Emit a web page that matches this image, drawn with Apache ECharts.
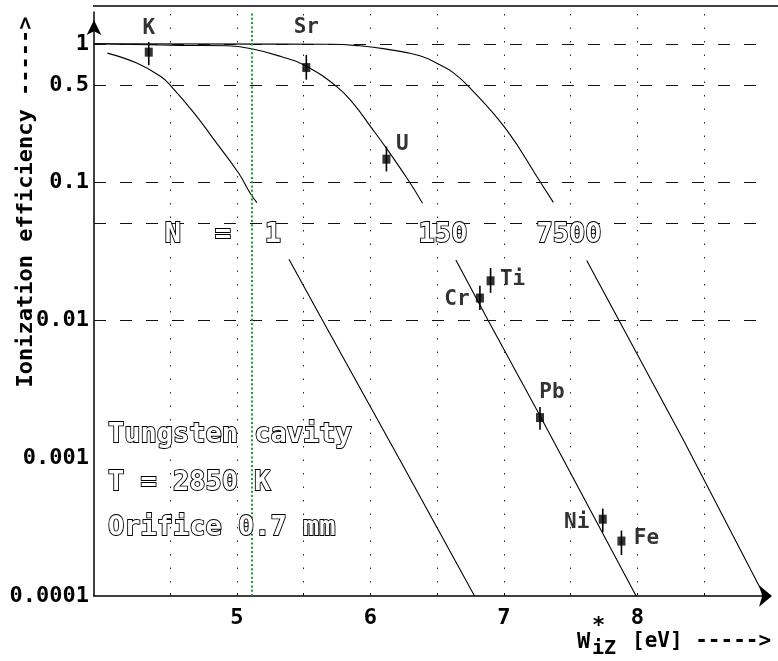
<!DOCTYPE html>
<html>
<head>
<meta charset="utf-8">
<script src="https://cdn.jsdelivr.net/npm/echarts@6/dist/echarts.min.js"></script>
<style>
  html, body { margin: 0; padding: 0; background: #fff; }
  #chart { width: 778px; height: 661px; }
</style>
</head>
<body>
<div id="chart"></div>
<script>
// Axis ticks and grid positions
const xTickLabels = [5, 6, 7, 8];
const xGridValues = [4.5, 5, 5.5, 6, 6.5, 7, 7.5, 8, 8.5];
const yTickValues = [0.0001, 0.001, 0.01, 0.1, 0.5, 1];
const yTickLabels = ['0.0001', '0.001', '0.01', '0.1', '0.5', '1'];
const yGridValues = [1, 0.5, 0.1, 0.05, 0.01, 0.005, 0.001, 0.0005];
const tungstenWorkFunction = 5.11;

// Ionization efficiency curves for N = 1, 150, 7500 (upper and lower branches)
const curveN1Upper = [[4.03, 0.856], [4.25, 0.725], [4.43, 0.58], [4.51, 0.49], [4.68, 0.315],
  [4.83, 0.2015], [5.01, 0.1168], [5.10, 0.0828], [5.15, 0.0708]];
const curveN1Lower = [[5.39, 0.0275], [5.64, 0.0100], [6.22, 0.00097], [6.78, 0.0001]];
const curveN150Upper = [[3.93, 1.0], [4.57, 0.975], [4.93, 0.967], [5.11, 0.92], [5.33, 0.809],
  [5.50, 0.705], [5.75, 0.488], [5.88, 0.361], [6.00, 0.252], [6.12, 0.175], [6.29, 0.1005],
  [6.39, 0.0701]];
const curveN150Lower = [[6.64, 0.0272], [6.88, 0.0100], [7.27, 0.00202], [7.99, 0.0001]];
const curveN7500Upper = [[3.93, 1.0], [5.70, 0.992], [5.92, 0.967], [6.12, 0.915], [6.37, 0.819],
  [6.52, 0.705], [6.62, 0.619], [6.74, 0.486], [7.02, 0.238], [7.27, 0.1005], [7.37, 0.0710]];
const curveN7500Lower = [[7.62, 0.0269], [7.86, 0.0100], [8.34, 0.00137], [8.95, 0.0001]];

// Measured elements: effective ionization potential, efficiency, error range
const elementNames = ['K', 'Sr', 'U', 'Ti', 'Cr', 'Pb', 'Ni', 'Fe'];
const elementX = [4.34, 5.52, 6.12, 6.90, 6.82, 7.27, 7.74, 7.88];
const elementY = [0.87, 0.673, 0.146, 0.0192, 0.0144, 0.00196, 0.00036, 0.00025];
const errorLow = [0.70, 0.55, 0.119, 0.0157, 0.0118, 0.0016, 0.00029, 0.000198];
const errorHigh = [1.03, 0.83, 0.18, 0.0238, 0.0177, 0.00234, 0.00043, 0.000298];

// Label placement relative to each marker (pixels)
const labelOffsets = [[0, -24], [0, -40], [16, -15], [22, -1], [-23, 2], [12, -25], [-26, 3], [25, -3]];

const MONO = '"DejaVu Sans Mono", "Liberation Mono", monospace';

const chart = echarts.init(document.getElementById('chart'), null, { renderer: 'canvas' });

function curveSeries(data, smooth) {
  return {
    type: 'line', data: data, z: 3, symbol: 'none', silent: true,
    smooth: smooth ? 0.45 : false,
    lineStyle: { color: '#000', width: 1.1 }
  };
}

function hollowText(text, x, y, align) {
  return {
    type: 'text', z: 6, x: x, y: y,
    style: {
      text: text, font: 'bold 27px ' + MONO, fill: '#fff', stroke: '#000', lineWidth: 1.8,
      align: align || 'left', verticalAlign: 'middle'
    }
  };
}

function plainText(text, x, y, size, extra) {
  return Object.assign({
    type: 'text', z: 6, x: x, y: y,
    style: { text: text, font: 'bold ' + size + 'px ' + MONO, fill: '#000', align: 'left', verticalAlign: 'middle' }
  }, extra || {});
}

const option = {
  backgroundColor: '#fff',
  animation: false,
  grid: { left: 94, right: 11, top: 12, bottom: 65, containLabel: false },
  xAxis: {
    type: 'value', min: 3.93, max: 8.97,
    axisLine: {
      show: true, onZero: false, lineStyle: { color: '#000', width: 1.5 },
      symbol: ['none', 'arrow'], symbolSize: [16, 13], symbolOffset: [0, 5]
    },
    axisTick: { show: true, inside: true, length: 3, customValues: xGridValues, lineStyle: { color: '#000' } },
    axisLabel: {
      customValues: xTickLabels, margin: 11, color: '#000',
      fontFamily: MONO, fontWeight: 'bold', fontSize: 22,
      formatter: v => String(Math.round(v))
    },
    splitLine: { show: false }
  },
  yAxis: {
    type: 'log', logBase: 10, min: 0.0001, max: 1.7,
    axisLine: {
      show: true, onZero: false, lineStyle: { color: '#000', width: 1.5 },
      symbol: ['none', 'arrow'], symbolSize: [11, 15], symbolOffset: [0, -8]
    },
    axisTick: { show: false },
    axisLabel: {
      customValues: yTickValues, margin: 5, color: '#000',
      fontFamily: MONO, fontWeight: 'bold', fontSize: 22,
      formatter: function (v) {
        let best = 0;
        yTickValues.forEach((t, i) => {
          if (Math.abs(Math.log10(t) - Math.log10(v)) < Math.abs(Math.log10(yTickValues[best]) - Math.log10(v))) best = i;
        });
        return yTickLabels[best];
      }
    },
    splitLine: { show: false }
  },
  graphic: [
    // frame line along the top
    { type: 'line', z: 6, shape: { x1: 93, y1: 6, x2: 778, y2: 6 }, style: { stroke: '#000', lineWidth: 1.5 } },
    // white band behind the N labels
    { type: 'rect', z: 0.5, shape: { x: 131, y: 205, width: 500, height: 57 }, style: { fill: '#fff' } },
    // white box behind the conditions text
    { type: 'rect', z: 2, shape: { x: 100, y: 393, width: 285, height: 174 }, style: { fill: '#fff' } },
    hollowText('N', 173, 235, 'center'),
    hollowText('=', 223, 235, 'center'),
    hollowText('1', 273, 235, 'center'),
    hollowText('150', 443, 235, 'center'),
    hollowText('7500', 569, 235, 'center'),
    hollowText('Tungsten cavity', 108, 435),
    hollowText('T = 2850 K', 108, 483),
    hollowText('Orifice 0.7 mm', 108, 528),
    // y axis title
    {
      type: 'text', z: 6, x: 26, y: 202, rotation: Math.PI / 2,
      style: { text: 'Ionization efficiency ----->', font: 'bold 22px ' + MONO, fill: '#000', align: 'center', verticalAlign: 'middle' }
    },
    // x axis title: W*iZ [eV] ----->
    plainText('W', 577, 642, 22),
    plainText('*', 592, 626, 22),
    plainText('iZ', 592, 649, 20),
    plainText('[eV] ----->', 632, 642, 21)
  ],
  series: [
    {
      // dotted vertical and dashed horizontal grid
      type: 'line', data: [], z: 0, silent: true,
      markLine: {
        silent: true, symbol: 'none', label: { show: false }, animation: false,
        data: xGridValues.map(v => ({ xAxis: v, lineStyle: { color: '#222', width: 1, type: [1.5, 12] } }))
          .concat(yGridValues.map(v => ({ yAxis: v, lineStyle: { color: '#111', width: 1.2, type: [12, 14] } })))
      }
    },
    {
      // tungsten work function
      type: 'line', data: [], z: 1, silent: true,
      markLine: {
        silent: true, symbol: 'none', label: { show: false }, animation: false,
        data: [{ xAxis: tungstenWorkFunction, lineStyle: { color: '#17a02c', width: 2, type: [2, 2.3] } }]
      }
    },
    curveSeries(curveN1Upper, true),
    curveSeries(curveN1Lower, false),
    curveSeries(curveN150Upper, true),
    curveSeries(curveN150Lower, false),
    curveSeries(curveN7500Upper, true),
    curveSeries(curveN7500Lower, false),
    {
      type: 'custom', z: 4, silent: true,
      data: elementX.map((x, i) => [x, errorLow[i], errorHigh[i]]),
      encode: { x: 0, y: [1, 2] },
      renderItem: function (params, api) {
        const p1 = api.coord([api.value(0), api.value(1)]);
        const p2 = api.coord([api.value(0), api.value(2)]);
        return { type: 'line', shape: { x1: p1[0], y1: p1[1], x2: p2[0], y2: p2[1] }, style: { stroke: '#000', lineWidth: 1.6 } };
      }
    },
    {
      type: 'scatter', z: 5, silent: true,
      symbol: 'rect', symbolSize: [8, 9],
      itemStyle: { color: '#000' },
      data: elementX.map((x, i) => ({
        value: [x, elementY[i]], name: elementNames[i],
        label: { offset: labelOffsets[i] }
      })),
      label: {
        show: true, position: 'inside', formatter: p => p.name,
        color: '#000', fontFamily: MONO, fontWeight: 'bold', fontSize: 21
      }
    }
  ]
};

chart.setOption(option);
</script>
</body>
</html>
